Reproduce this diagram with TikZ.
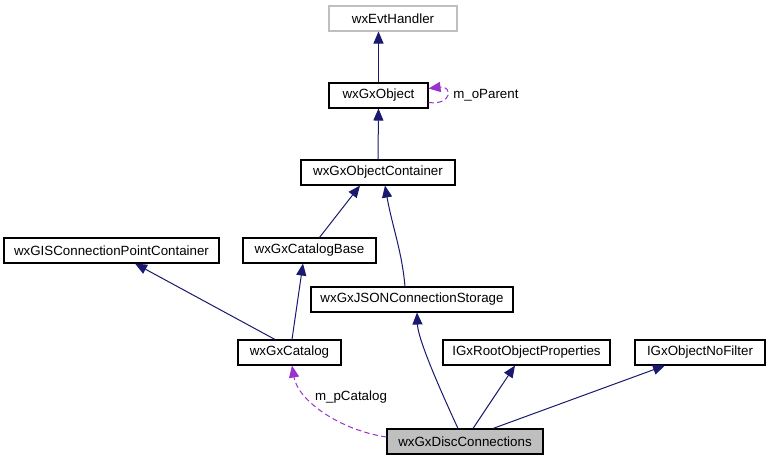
\documentclass[tikz,border=0pt]{standalone}
\usepackage{fontspec}
\setmainfont{Liberation Sans}
\usepackage{xcolor}
\usetikzlibrary{arrows.meta}

\definecolor{edgeblue}{RGB}{25,25,112}
\definecolor{refpurple}{RGB}{154,50,205}
\definecolor{boxgray}{RGB}{191,191,191}

\begin{document}
\begin{tikzpicture}[
  x=0.75pt, y=-0.75pt,
  font=\fontsize{10}{12}\selectfont,
  klass/.style={draw=black, line width=0.8pt, fill=white, minimum height=18.75pt, inner sep=0pt, align=center},
  inherit/.style={-{Triangle[length=9pt,width=7.5pt]}, draw=edgeblue, line width=0.75pt},
  usage/.style={-{Triangle[length=9pt,width=7.5pt]}, draw=refpurple, line width=0.75pt, dash pattern=on 4pt off 2.5pt},
  lbl/.style={inner sep=0pt}
]
\path[use as bounding box] (0,0) rectangle (768,461);

% classes
\node[klass, draw=boxgray, minimum width=96pt] (evt) at (393,18.5) {wxEvtHandler};
\node[klass, minimum width=74.25pt] (obj) at (378.5,95.5) {wxGxObject};
\node[klass, minimum width=115.5pt] (cont) at (378,172.5) {wxGxObjectContainer};
\node[klass, minimum width=161.25pt] (gisconn) at (111.5,250.5) {wxGISConnectionPointContainer};
\node[klass, minimum width=99.75pt] (base) at (309.5,250.5) {wxGxCatalogBase};
\node[klass, minimum width=151.5pt] (json) at (412,299.5) {wxGxJSONConnectionStorage};
\node[klass, minimum width=77.25pt] (catalog) at (289.5,352.5) {wxGxCatalog};
\node[klass, minimum width=125.25pt] (rootprop) at (526.5,352.5) {IGxRootObjectProperties};
\node[klass, minimum width=97.5pt] (nofilter) at (700,352.5) {IGxObjectNoFilter};
\node[klass, fill=boxgray, minimum width=117pt] (disc) at (465,441.5) {wxGxDiscConnections};

% inheritance
\draw[inherit] (obj.north) -- (obj.north |- evt.south);
\draw[inherit] (cont.north) -- (obj.south);
\draw[inherit] ([shift={(10,0)}]base.north) -- ([shift={(-18,0)}]cont.south);
\draw[inherit] ([shift={(-7,0)}]json.north) .. controls +(-3,-35) and +(7,40) .. ([shift={(7,0)}]cont.south);
\draw[inherit] ([shift={(-14.5,0)}]catalog.north) -- ([shift={(23.5,0)}]gisconn.south);
\draw[inherit] ([shift={(2.5,0)}]catalog.north) -- ([shift={(-6.5,0)}]base.south);
\draw[inherit] ([shift={(-7,0)}]disc.north) .. controls +(-18,-39) and +(1,27) .. ([shift={(5,0)}]json.south);
\draw[inherit] ([shift={(8,0)}]disc.north) -- ([shift={(-11.5,0)}]rootprop.south);
\draw[inherit] ([shift={(28,0)}]disc.north) -- ([shift={(-35,0)}]nofilter.south);

% members
\draw[usage] ([shift={(0,7)}]obj.east) .. controls +(24,3) and +(24,-3) .. ([shift={(0,-7)}]obj.east);
\node[lbl, anchor=west] (oparent) at (453,95) {m\_oParent};
\draw[usage] ([shift={(0,-4.5)}]disc.west) .. controls +(-47,-7) and +(6,35) .. ([shift={(2.5,0)}]catalog.south);
\node[lbl] (pcatalog) at (351,397) {m\_pCatalog};
\end{tikzpicture}
\end{document}
